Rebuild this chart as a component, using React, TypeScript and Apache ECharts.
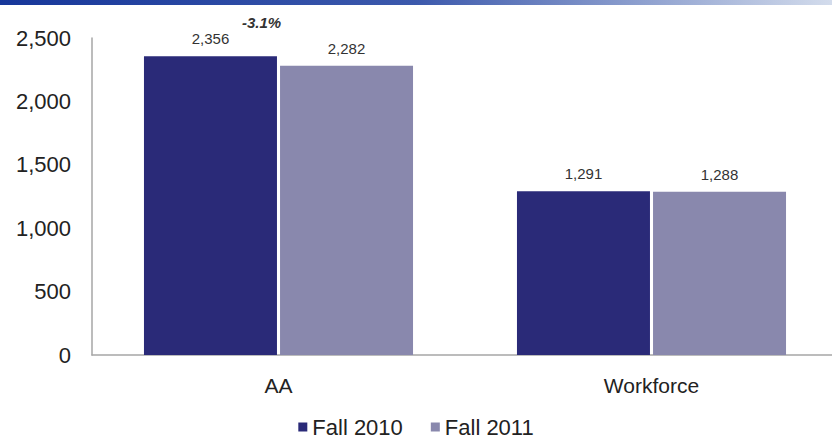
import React, { useEffect, useRef } from "react";
import * as echarts from "echarts";

const categories = ["AA", "Workforce"];
const fall2010 = [2356, 1291];
const fall2011 = [2282, 1288];
const seriesNames = ["Fall 2010", "Fall 2011"];
const yTicks = { min: 0, max: 2500, interval: 500 };

const fmt = (v: number) => v.toLocaleString("en-US");

export default function App() {
  const ref = useRef<HTMLDivElement>(null);
  useEffect(() => {
    if (!ref.current) return;
    const chart = echarts.init(ref.current, null, { renderer: "svg" });
    const font = "'Liberation Sans', Arial, sans-serif";
    const labelStyle = {
      show: true,
      position: "top" as const,
      distance: 10,
      color: "#333",
      fontSize: 15,
      fontFamily: font,
      formatter: (p: any) => fmt(p.value),
    };
    chart.setOption({
      animation: false,
      backgroundColor: "#fff",
      textStyle: { fontFamily: font },
      grid: { left: 92, width: 746, top: 38, bottom: 87, outerBoundsMode: "none", containLabel: false },
      legend: {
        bottom: -1,
        left: "center",
        icon: "rect",
        itemWidth: 9,
        itemHeight: 9,
        itemGap: 28,
        textStyle: { fontSize: 22, color: "#222", fontFamily: font },
        data: seriesNames,
      },
      xAxis: {
        type: "category",
        data: categories,
        axisLine: { show: true, lineStyle: { color: "#a6a6a6", width: 1.5 } },
        axisTick: { show: false },
        axisLabel: { fontSize: 21, color: "#222", margin: 20, fontFamily: font },
      },
      yAxis: {
        type: "value",
        min: yTicks.min,
        max: yTicks.max,
        interval: yTicks.interval,
        axisLine: { show: true, lineStyle: { color: "#a6a6a6", width: 1.5 } },
        axisTick: { show: false },
        splitLine: { show: false },
        axisLabel: {
          fontSize: 22,
          color: "#222",
          margin: 21,
          fontFamily: font,
          formatter: (v: number) => fmt(v),
        },
      },
      series: [
        {
          name: seriesNames[0],
          type: "bar",
          data: fall2010,
          barWidth: 133,
          barGap: "2.3%",
          itemStyle: { color: "#2A2A78" },
          label: labelStyle,
        },
        {
          name: seriesNames[1],
          type: "bar",
          data: fall2011,
          barWidth: 133,
          itemStyle: { color: "#8988AD" },
          label: labelStyle,
        },
      ],
    });

    const pct = ((fall2011[0] - fall2010[0]) / fall2010[0]) * 100;
    const pt = chart.convertToPixel({ xAxisIndex: 0, yAxisIndex: 0 }, [0, yTicks.max]) as number[];
    chart.setOption({
      graphic: [
        {
          type: "rect",
          left: 0,
          top: 0,
          shape: { width: 832, height: 5 },
          style: {
            fill: new echarts.graphic.LinearGradient(0, 0, 1, 0, [
              { offset: 0, color: "#17379A" },
              { offset: 0.5, color: "#3C59AC" },
              { offset: 1, color: "#D3DCEC" },
            ]),
          },
        },
        {
          type: "text",
          x: pt[0] - 17,
          y: pt[1] - 16,
          style: {
            text: pct.toFixed(1) + "%",
            fontSize: 15,
            fontWeight: "bold",
            fontStyle: "italic",
            fill: "#333",
            fontFamily: font,
            align: "center",
            verticalAlign: "middle",
          },
        },
      ],
    });
    return () => chart.dispose();
  }, []);
  return (
    <div
      ref={ref}
      style={{ position: "absolute", left: 0, top: 0, width: 832, height: 442, overflow: "hidden" }}
    />
  );
}
